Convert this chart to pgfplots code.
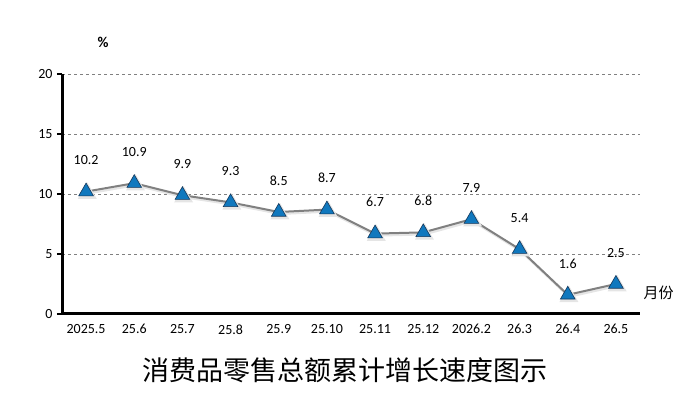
\documentclass[border=0pt]{standalone}
\usepackage{pgfplots}
\pgfplotsset{compat=1.18}
\usepackage{fontspec}
\setmainfont{Carlito}
\newfontfamily\cjk{Noto Sans CJK SC}
\definecolor{linegray}{RGB}{128,128,128}
\definecolor{tribl}{RGB}{16,120,190}
\definecolor{tribd}{RGB}{20,55,90}
\pgfplotstableread{
x y
0 10.2
1 10.9
2 9.9
3 9.3
4 8.5
5 8.7
6 6.7
7 6.8
8 7.9
9 5.4
10 1.6
11 2.5
}\datatable
\begin{document}
\begin{tikzpicture}
\useasboundingbox (0pt,0pt) rectangle (691pt,407pt);
\begin{axis}[
  at={(62pt,93pt)}, anchor=south west,
  width=578pt, height=240pt, scale only axis,
  xmin=-0.5, xmax=11.5, ymin=0, ymax=20,
  axis x line*=bottom, axis y line*=left,
  axis line style={line width=3pt, black},
  xtick={0,...,11},
  xticklabels={2025.5,25.6,25.7,25.8,25.9,25.10,25.11,25.12,2026.2,26.3,26.4,26.5},
  ytick={0,5,10,15,20},
  major x tick style={draw=none},
  ytick style={line width=1.5pt, black},
  tick align=outside, major tick length=5pt,
  ymajorgrids, grid style={dashed, gray, line width=0.7pt},
  /pgf/number format/assume math mode=true,
  ticklabel style={font=\fontsize{14}{16}\selectfont},
  yticklabel style={xshift=-1pt},
  xticklabel style={yshift=-2pt},
  clip=false,
]
% soft shadow of the line and markers
\addplot[color=black!10, line width=2.5pt, forget plot,
  mark=triangle*, mark size=8.5pt,
  mark options={fill=black!15, draw=none, solid},
  shift={(1.2pt,-1.8pt)}] table[x=x,y=y] {\datatable};
\addplot[color=linegray, line width=2pt,
  mark=triangle*, mark size=8.5pt,
  mark options={fill=tribl, draw=tribd, line width=0.6pt, solid},
  nodes near coords, nodes near coords align={above},
  every node near coord/.append style={font=\fontsize{14}{16}\selectfont, black, yshift=23pt},
  point meta=explicit symbolic]
  coordinates {
  (0,10.2) [10.2]
  (1,10.9) [10.9]
  (2,9.9) [9.9]
  (3,9.3) [9.3]
  (4,8.5) [8.5]
  (5,8.7) [8.7]
  (6,6.7) [6.7]
  (7,6.8) [6.8]
  (8,7.9) [7.9]
  (9,5.4) [5.4]
  (10,1.6) [1.6]
  (11,2.5) [2.5]
  };
\end{axis}
\node[font=\bfseries\fontsize{15}{17}\selectfont] at (103pt,365pt) {\%};
\node[font=\cjk\fontsize{15}{17}\selectfont, anchor=west] at (640pt,114pt) {月份};
\node[font=\cjk\fontsize{27}{30}\selectfont] at (345pt,37pt) {消费品零售总额累计增长速度图示};
\end{tikzpicture}
\end{document}
